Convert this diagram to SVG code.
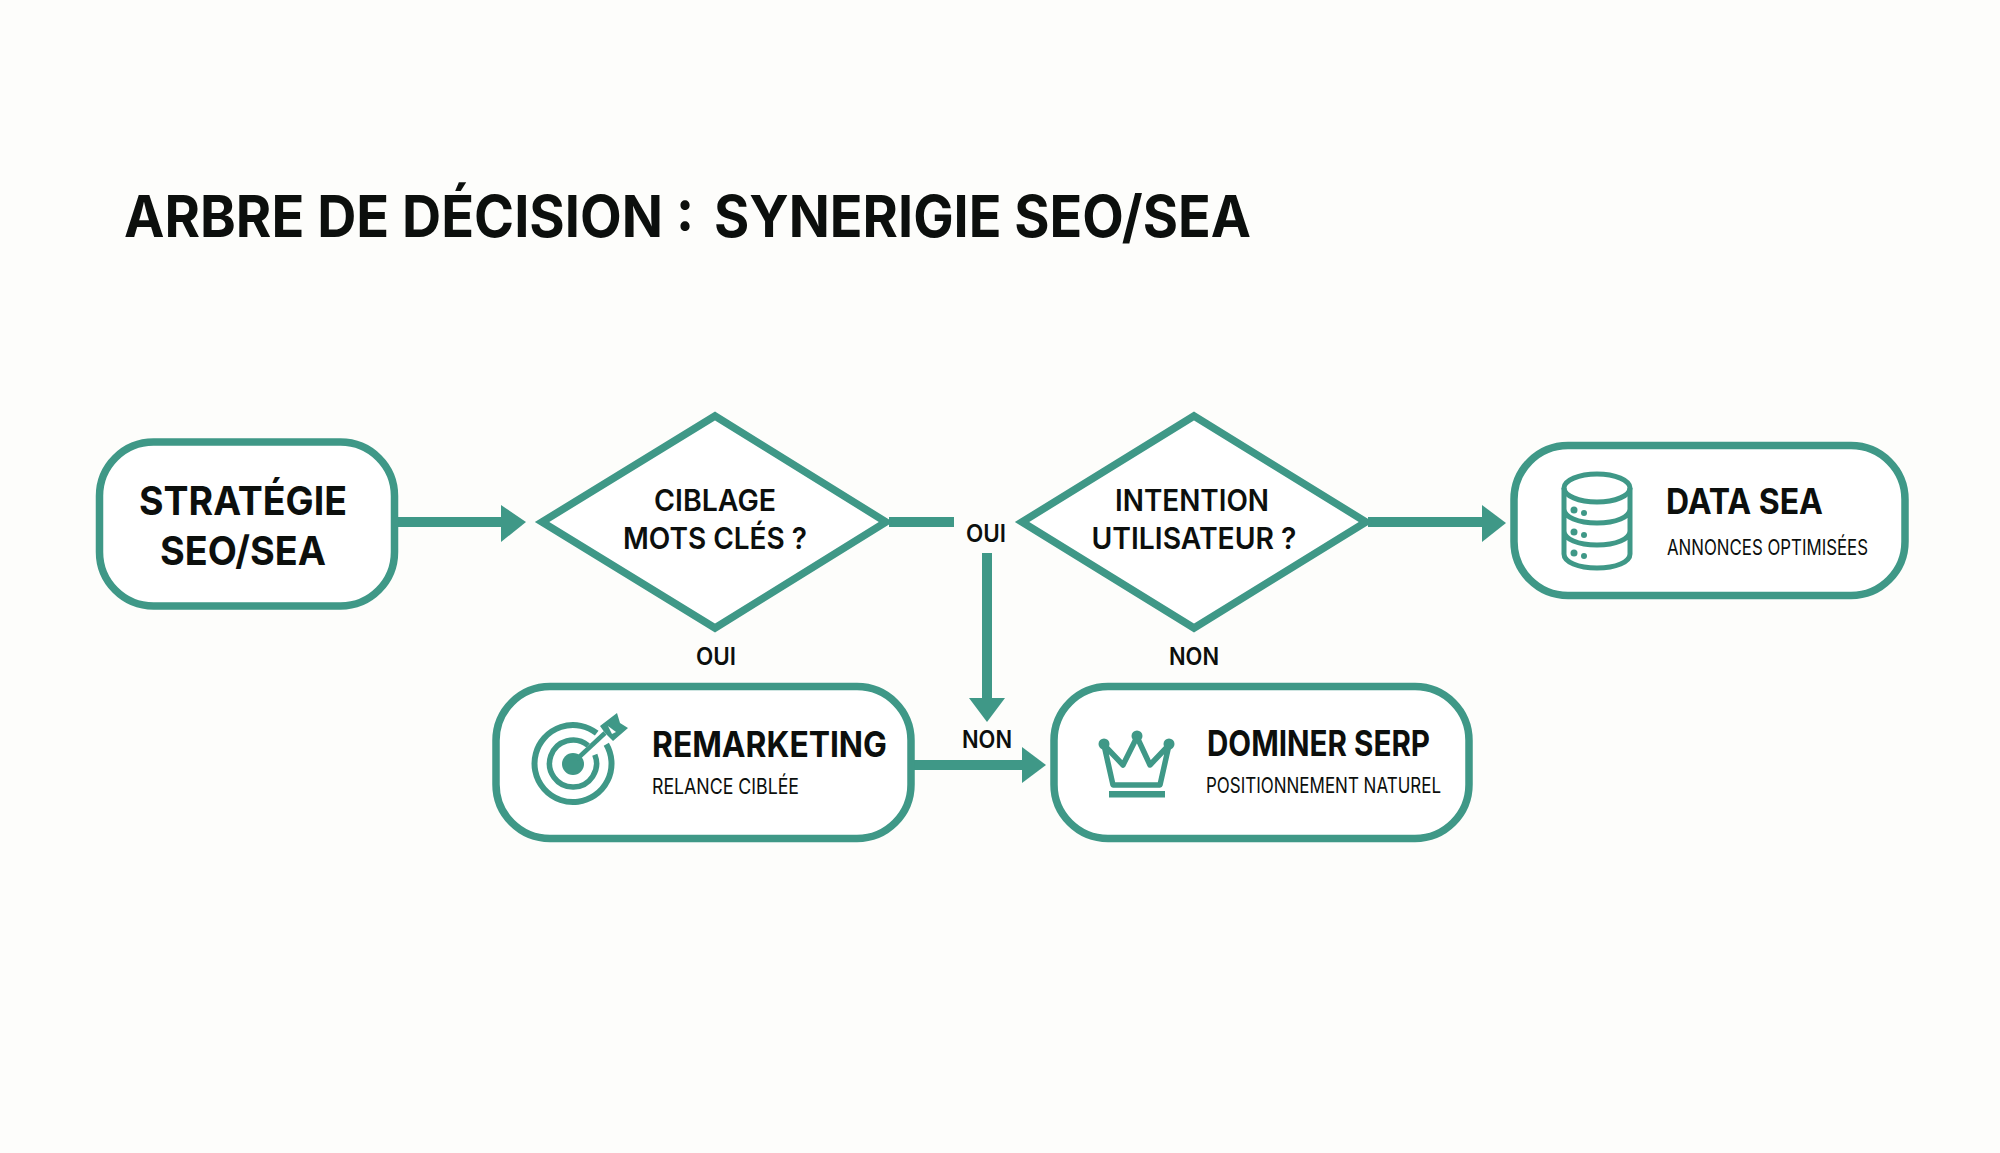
<svg xmlns="http://www.w3.org/2000/svg" width="2000" height="1153" viewBox="0 0 2000 1153">
<style>
text{font-family:"Inter","Roboto","Liberation Sans",sans-serif;fill:#0c0f0d}
.title{font-size:58px;font-weight:700}
.big{font-size:40px;font-weight:700;text-anchor:middle}
.q{font-size:30px;font-weight:600;text-anchor:middle}
.lab{font-size:24px;font-weight:600;text-anchor:middle}
.h{font-size:35px;font-weight:700}
.sub{font-size:22px;font-weight:400}
.box{fill:#fff;stroke:#3f9887;stroke-width:7.500}
.ln{fill:none;stroke:#3f9887;stroke-width:10}
.ic{fill:none;stroke:#3f9887;stroke-width:5}
.fl{fill:#3f9887}
</style>
<rect width="2000" height="1153" fill="#fdfdfb"/>
<text class="title" y="237"><tspan x="124" textLength="570" lengthAdjust="spacingAndGlyphs">ARBRE DE DÉCISION :</tspan><tspan x="714" textLength="537" lengthAdjust="spacingAndGlyphs">SYNERIGIE SEO/SEA</tspan></text>
<g id="connectors">
<path class="ln" d="M397 522H503"/><polygon class="fl" points="501,505 526,522 501,542"/>
<path class="ln" d="M889 522H954"/>
<path class="ln" d="M987 553V700"/><polygon class="fl" points="969,698 1005,698 987,722"/>
<path class="ln" d="M1368 522H1484"/><polygon class="fl" points="1482,505 1506,523 1482,542"/>
<path class="ln" d="M912 765H1024"/><polygon class="fl" points="1022,747 1046,765 1022,783"/>
</g>
<g id="strategie">
<rect class="box" x="99.500" y="442" width="295" height="164" rx="54"/>
<text class="big" x="243" y="515" textLength="208" lengthAdjust="spacingAndGlyphs">STRATÉGIE</text>
<text class="big" x="243" y="565" textLength="166" lengthAdjust="spacingAndGlyphs">SEO/SEA</text>
</g>
<g id="ciblage">
<polygon class="box" points="715,416 886,522 715,628 542,522"/>
<text class="q" x="715" y="511" textLength="122" lengthAdjust="spacingAndGlyphs">CIBLAGE</text>
<text class="q" x="715" y="549" textLength="184" lengthAdjust="spacingAndGlyphs">MOTS CLÉS ?</text>
</g>
<g id="intention">
<polygon class="box" points="1194,416 1366,522 1194,628 1022,522"/>
<text class="q" x="1192" y="511" textLength="154" lengthAdjust="spacingAndGlyphs">INTENTION</text>
<text class="q" x="1194" y="549" textLength="205" lengthAdjust="spacingAndGlyphs">UTILISATEUR ?</text>
</g>
<g id="labels">
<text class="lab" x="716" y="665" textLength="40" lengthAdjust="spacingAndGlyphs">OUI</text>
<text class="lab" x="986" y="542" textLength="40" lengthAdjust="spacingAndGlyphs">OUI</text>
<text class="lab" x="1194" y="665" textLength="50" lengthAdjust="spacingAndGlyphs">NON</text>
<text class="lab" x="987" y="748" textLength="50" lengthAdjust="spacingAndGlyphs">NON</text>
</g>
<g id="remarketing">
<rect class="box" x="496" y="686.500" width="415" height="152" rx="54"/>
<path class="ic" style="stroke-width:6" d="M596.700 733.200A38.500 38.500 0 1 0 606.300 744.200"/>
<path class="ic" style="stroke-width:5.500" d="M588.100 745.500A23.500 23.500 0 1 0 594.800 754.700"/>
<circle class="fl" cx="573" cy="764" r="11"/>
<path class="ic" style="stroke-width:4.500" d="M577 759L605 733"/>
<path class="fl" d="M600 726L617 713L620 723L628 728L613 741L605 733Z"/>
<path d="M608 726L616 732L612 734Z" fill="#fff"/>
<text class="h" x="652" y="757" textLength="235" lengthAdjust="spacingAndGlyphs">REMARKETING</text>
<text class="sub" x="652" y="794" textLength="147" lengthAdjust="spacingAndGlyphs">RELANCE CIBLÉE</text>
</g>
<g id="dominer">
<rect class="box" x="1054" y="686.500" width="415" height="152" rx="54"/>
<path class="ic" style="stroke-width:5.500" d="M1104 745L1123 765L1137 737L1150 765L1169 745L1160 785H1113Z" stroke-linejoin="round"/>
<circle class="fl" cx="1104" cy="744" r="5.500"/><circle class="fl" cx="1137" cy="736" r="5.500"/><circle class="fl" cx="1169" cy="744" r="5.500"/>
<rect class="fl" x="1109" y="791" width="56" height="6.500"/>
<text class="h" x="1207" y="756" textLength="223" lengthAdjust="spacingAndGlyphs">DOMINER SERP</text>
<text class="sub" x="1206" y="793" textLength="235" lengthAdjust="spacingAndGlyphs">POSITIONNEMENT NATUREL</text>
</g>
<g id="data-sea">
<rect class="box" x="1514" y="445.500" width="391" height="150" rx="54"/>
<ellipse class="ic" cx="1597" cy="488" rx="33" ry="14"/>
<path class="ic" d="M1564 488V554C1564 562 1578 568 1597 568S1630 562 1630 554V488M1564 509C1564 517 1578 523 1597 523S1630 517 1630 509M1564 531C1564 539 1578 545 1597 545S1630 539 1630 531"/>
<circle class="fl" cx="1574" cy="510" r="3.500"/><circle class="fl" cx="1584" cy="513" r="3"/>
<circle class="fl" cx="1574" cy="532" r="3.500"/><circle class="fl" cx="1584" cy="535" r="3"/>
<circle class="fl" cx="1574" cy="553" r="3.500"/><circle class="fl" cx="1584" cy="556" r="3"/>
<text class="h" x="1666" y="514" textLength="157" lengthAdjust="spacingAndGlyphs">DATA SEA</text>
<text class="sub" x="1667" y="555" textLength="201" lengthAdjust="spacingAndGlyphs">ANNONCES OPTIMISÉES</text>
</g>
</svg>
